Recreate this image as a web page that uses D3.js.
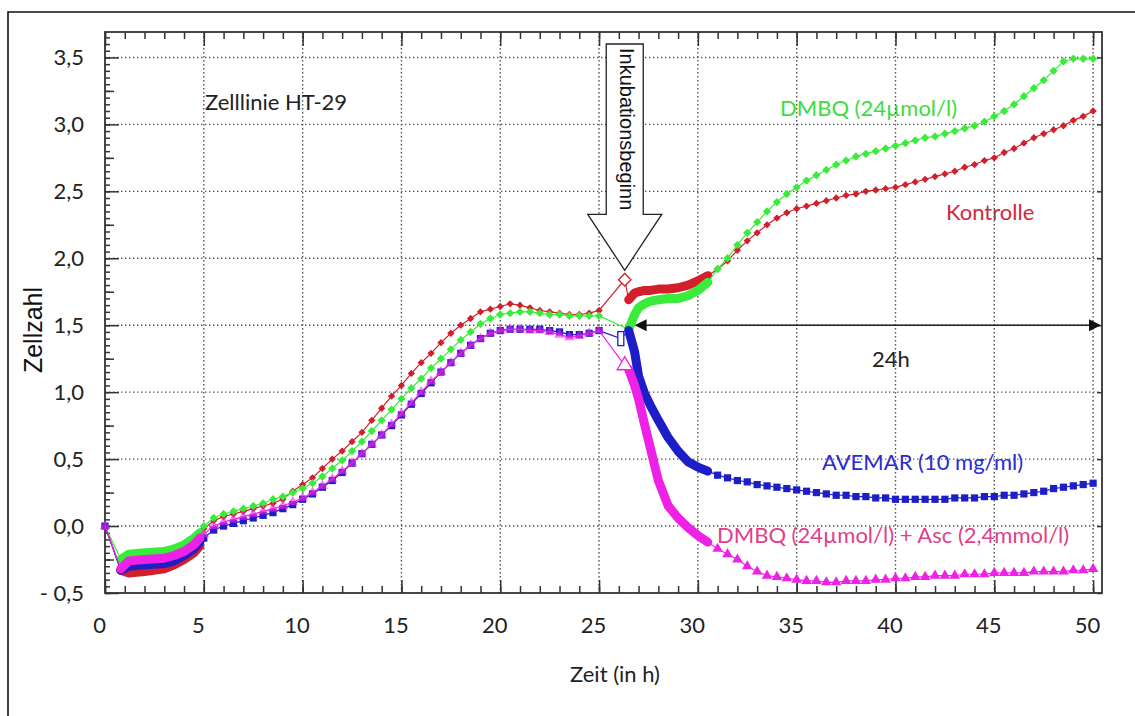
<!DOCTYPE html>
<html>
<head>
<meta charset="utf-8">
<script src="https://cdn.jsdelivr.net/npm/d3@7"></script>
<style>
body { margin: 0; background: #fff; }
svg { display: block; }
</style>
</head>
<body>
<script>
// cell count curves, HT-29

var xMajor = [0, 5, 10, 15, 20, 25, 30, 35, 40, 45, 50];
var yMajor = [-0.5, 0, 0.5, 1, 1.5, 2, 2.5, 3, 3.5];
var yLabels = ["- 0,5", "0,0", "0,5", "1,0", "1,5", "2,0", "2,5", "3,0", "3,5"];

// dense part at the start (0.8 - 4.8 h)
var earlyTimes = [0.8, 1.2, 2, 3, 3.5, 4, 4.5, 4.8];
var kontrolleEarly = [-0.33, -0.35, -0.34, -0.32, -0.29, -0.25, -0.20, -0.15];
var dmbqEarly = [-0.25, -0.21, -0.20, -0.19, -0.17, -0.14, -0.09, -0.05];
var avemarEarly = [-0.33, -0.30, -0.29, -0.28, -0.26, -0.22, -0.17, -0.12];
var ascEarly = [-0.32, -0.26, -0.25, -0.24, -0.22, -0.19, -0.14, -0.09];

// half-hourly points before incubation
var midTimes = [5, 5.5, 6, 6.5, 7, 7.5, 8, 8.5, 9, 9.5, 10, 10.5, 11, 11.5, 12, 12.5, 13, 13.5, 14, 14.5,
                15, 15.5, 16, 16.5, 17, 17.5, 18, 18.5, 19, 19.5, 20, 20.5, 21, 21.5, 22, 22.5, 23, 23.5, 24, 24.5, 25];
var kontrolleMid = [-0.02, 0.04, 0.07, 0.09, 0.11, 0.13, 0.15, 0.17, 0.20, 0.26, 0.31, 0.36, 0.43, 0.50, 0.56, 0.63, 0.70, 0.79, 0.88, 0.97,
                    1.05, 1.14, 1.22, 1.29, 1.37, 1.44, 1.50, 1.55, 1.60, 1.62, 1.64, 1.66, 1.65, 1.63, 1.61, 1.60, 1.59, 1.58, 1.58, 1.59, 1.61];
var dmbqMid = [0.00, 0.06, 0.09, 0.11, 0.13, 0.15, 0.17, 0.20, 0.22, 0.25, 0.28, 0.32, 0.37, 0.43, 0.49, 0.56, 0.63, 0.71, 0.79, 0.87,
               0.95, 1.03, 1.10, 1.18, 1.25, 1.32, 1.39, 1.45, 1.51, 1.55, 1.58, 1.59, 1.60, 1.60, 1.59, 1.58, 1.58, 1.57, 1.57, 1.57, 1.57];
var avemarMid = [-0.09, -0.03, 0.00, 0.02, 0.04, 0.06, 0.08, 0.10, 0.13, 0.16, 0.20, 0.24, 0.29, 0.34, 0.40, 0.47, 0.54, 0.61, 0.68, 0.75,
                 0.83, 0.91, 0.99, 1.07, 1.15, 1.22, 1.29, 1.35, 1.40, 1.44, 1.46, 1.47, 1.47, 1.47, 1.47, 1.46, 1.45, 1.43, 1.43, 1.44, 1.46];
var ascMid = [-0.06, 0.00, 0.03, 0.05, 0.07, 0.09, 0.11, 0.13, 0.15, 0.18, 0.21, 0.25, 0.30, 0.35, 0.41, 0.47, 0.54, 0.61, 0.68, 0.76,
              0.84, 0.92, 1.00, 1.08, 1.15, 1.22, 1.29, 1.35, 1.40, 1.44, 1.46, 1.47, 1.47, 1.46, 1.46, 1.45, 1.43, 1.41, 1.42, 1.44, 1.46];

// point at start of incubation (hollow marker)
var kontrolleStart = [26.3, 1.84];
var avemarStart = [26.1, 1.40];
var ascStart = [26.3, 1.20];

// dense part after incubation
var lateTimes = [26.5, 26.8, 27.0, 27.3, 27.6, 28.0, 28.5, 29.0, 29.5, 30.0, 30.5];
var kontrolleLate = [1.69, 1.74, 1.75, 1.76, 1.76, 1.77, 1.77, 1.78, 1.80, 1.83, 1.87];
var dmbqLate = [1.47, 1.58, 1.63, 1.66, 1.68, 1.69, 1.70, 1.70, 1.72, 1.76, 1.82];
var avemarLate = [1.46, 1.30, 1.12, 0.99, 0.90, 0.79, 0.66, 0.56, 0.48, 0.44, 0.41];
var ascLate = [1.17, 1.05, 0.95, 0.76, 0.58, 0.34, 0.15, 0.06, -0.01, -0.07, -0.12];

// half-hourly points after incubation
var postTimes = [31, 31.5, 32, 32.5, 33, 33.5, 34, 34.5, 35, 35.5, 36, 36.5, 37, 37.5, 38, 38.5, 39, 39.5, 40,
                 40.5, 41, 41.5, 42, 42.5, 43, 43.5, 44, 44.5, 45, 45.5, 46, 46.5, 47, 47.5, 48, 48.5, 49, 49.5, 50];
var kontrollePost = [1.92, 1.98, 2.06, 2.13, 2.19, 2.25, 2.30, 2.34, 2.37, 2.39, 2.41, 2.43, 2.45, 2.47, 2.48, 2.50, 2.51, 2.52, 2.53,
                     2.55, 2.57, 2.59, 2.61, 2.63, 2.65, 2.68, 2.70, 2.73, 2.75, 2.79, 2.82, 2.86, 2.90, 2.93, 2.96, 2.99, 3.03, 3.06, 3.10];
var dmbqPost = [1.92, 2.00, 2.10, 2.19, 2.27, 2.35, 2.42, 2.48, 2.53, 2.58, 2.62, 2.66, 2.70, 2.73, 2.76, 2.78, 2.80, 2.82, 2.84,
                2.86, 2.88, 2.90, 2.91, 2.93, 2.95, 2.97, 2.99, 3.02, 3.06, 3.10, 3.15, 3.21, 3.27, 3.33, 3.40, 3.47, 3.49, 3.49, 3.49];
var avemarPost = [0.38, 0.36, 0.34, 0.33, 0.31, 0.30, 0.29, 0.28, 0.27, 0.26, 0.25, 0.24, 0.23, 0.23, 0.22, 0.22, 0.21, 0.21, 0.20,
                  0.20, 0.20, 0.20, 0.20, 0.20, 0.21, 0.21, 0.21, 0.22, 0.22, 0.23, 0.23, 0.24, 0.25, 0.26, 0.28, 0.29, 0.30, 0.31, 0.32];
var ascPost = [-0.17, -0.21, -0.25, -0.30, -0.34, -0.37, -0.38, -0.39, -0.40, -0.41, -0.41, -0.42, -0.42, -0.41, -0.41, -0.41, -0.40, -0.40, -0.39,
               -0.39, -0.38, -0.38, -0.37, -0.37, -0.37, -0.36, -0.36, -0.36, -0.35, -0.35, -0.35, -0.35, -0.34, -0.34, -0.34, -0.34, -0.33, -0.33, -0.32];

var W = 1135, H = 716;
var plotL = 105, plotR = 1102, plotT = 32, plotB = 593;

var x = d3.scaleLinear().domain([0, 50.45]).range([plotL, plotR]);
var y = d3.scaleLinear().domain([-0.5, 3.69]).range([plotB, plotT]);

var svg = d3.select("body").append("svg").attr("width", W).attr("height", H);

// outer frame (only top and left edge are in the picture)
svg.append("path").attr("d", "M8,716V12H1135").attr("fill", "none").attr("stroke", "#111").attr("stroke-width", 1.6);

var font = "Lato, 'Open Sans', sans-serif";

// texts that sit under the grid
svg.append("text").attr("x", 205).attr("y", 110).text("Zelllinie HT-29")
    .attr("font-family", font).attr("font-size", 22).attr("fill", "#222");
svg.append("text").attr("x", 780).attr("y", 116).text("DMBQ (24µmol/l)")
    .attr("font-family", font).attr("font-size", 22).attr("fill", "#3edc3e");
svg.append("text").attr("x", 946).attr("y", 220).text("Kontrolle")
    .attr("font-family", font).attr("font-size", 22).attr("fill", "#d0283a");
svg.append("text").attr("x", 822).attr("y", 470).text("AVEMAR (10 mg/ml)")
    .attr("font-family", font).attr("font-size", 22).attr("fill", "#2a2ad2");
svg.append("text").attr("x", 717).attr("y", 543).text("DMBQ (24µmol/l) + Asc (2,4mmol/l)")
    .attr("font-family", font).attr("font-size", 22).attr("fill", "#e0408a");
svg.append("text").attr("x", 872).attr("y", 367).text("24h")
    .attr("font-family", font).attr("font-size", 22).attr("fill", "#222");

// dotted grid
var grid = svg.append("g").attr("stroke", "#555").attr("stroke-width", 1.4).attr("stroke-dasharray", "1.4,2.6");
grid.selectAll("line.gx").data(xMajor.filter(function (d) { return d > 0; })).enter().append("line")
    .attr("x1", function (d) { return x(d); }).attr("x2", function (d) { return x(d); })
    .attr("y1", plotT).attr("y2", plotB);
grid.selectAll("line.gy").data(yMajor.filter(function (d) { return d > -0.5; })).enter().append("line")
    .attr("x1", plotL).attr("x2", plotR)
    .attr("y1", function (d) { return y(d); }).attr("y2", function (d) { return y(d); });

// axes, ticks point inwards
function styleAxis(g) {
    g.select(".domain").remove();
    g.selectAll("line").attr("stroke", "#333").attr("stroke-width", 1.5);
    g.selectAll("text").attr("font-family", font).attr("font-size", 22).attr("fill", "#222");
}

svg.append("g").attr("transform", "translate(0," + plotB + ")")
    .call(d3.axisBottom(x).tickValues(d3.range(0, 51, 1)).tickSize(-7).tickFormat(""))
    .call(styleAxis);
svg.append("g").attr("transform", "translate(0," + plotB + ")")
    .call(d3.axisBottom(x).tickValues(xMajor).tickSize(-13).tickPadding(24).tickFormat(d3.format("d")))
    .call(styleAxis)
    .selectAll("text").attr("dx", -6);

svg.append("g").attr("transform", "translate(0," + plotT + ")")
    .call(d3.axisTop(x).tickValues(d3.range(0, 51, 1)).tickSize(-7).tickFormat(""))
    .call(styleAxis);
svg.append("g").attr("transform", "translate(0," + plotT + ")")
    .call(d3.axisTop(x).tickValues(xMajor).tickSize(-14).tickFormat(""))
    .call(styleAxis);

svg.append("g").attr("transform", "translate(" + plotL + ",0)")
    .call(d3.axisLeft(y).tickValues(d3.range(-0.5, 3.69, 0.05)).tickSize(-5).tickFormat(""))
    .call(styleAxis);
svg.append("g").attr("transform", "translate(" + plotL + ",0)")
    .call(d3.axisLeft(y).tickValues(d3.range(-0.25, 3.69, 0.5)).tickSize(-9).tickFormat(""))
    .call(styleAxis);
svg.append("g").attr("transform", "translate(" + plotL + ",0)")
    .call(d3.axisLeft(y).tickValues(yMajor).tickSize(-14).tickPadding(21)
        .tickFormat(function (d, i) { return yLabels[i]; }))
    .call(styleAxis);

svg.append("g").attr("transform", "translate(" + plotR + ",0)")
    .call(d3.axisRight(y).tickValues(yMajor).tickSize(-5).tickFormat(""))
    .call(styleAxis);

svg.append("rect").attr("x", plotL).attr("y", plotT).attr("width", plotR - plotL).attr("height", plotB - plotT)
    .attr("fill", "none").attr("stroke", "#333").attr("stroke-width", 1.8);

// axis titles
svg.append("text").attr("transform", "translate(42,330) rotate(-90)").attr("text-anchor", "middle")
    .text("Zellzahl").attr("font-family", "'Liberation Sans', Arial, sans-serif").attr("font-size", 25).attr("fill", "#111");
svg.append("text").attr("x", 615).attr("y", 682).attr("text-anchor", "middle")
    .text("Zeit (in h)").attr("font-family", font).attr("font-size", 22).attr("fill", "#222");

// series
function zip(ts, vs) {
    return ts.map(function (t, i) { return [t, vs[i]]; });
}

var series = [
    {color: "#d21f2b", symbol: d3.symbolDiamond2, size: 34, opacity: 1,
        early: zip(earlyTimes, kontrolleEarly), mid: zip(midTimes, kontrolleMid), start: kontrolleStart,
        late: zip(lateTimes, kontrolleLate), post: zip(postTimes, kontrollePost)},
    {color: "#3aec3a", symbol: d3.symbolDiamond2, size: 44, opacity: 1,
        early: zip(earlyTimes, dmbqEarly), mid: zip(midTimes, dmbqMid), start: null,
        late: zip(lateTimes, dmbqLate), post: zip(postTimes, dmbqPost)},
    {color: "#1e1ec8", symbol: d3.symbolSquare, size: 52, opacity: 1,
        early: zip(earlyTimes, avemarEarly), mid: zip(midTimes, avemarMid), start: avemarStart,
        late: zip(lateTimes, avemarLate), post: zip(postTimes, avemarPost)},
    {color: "#ee22e6", symbol: d3.symbolTriangle, size: 48, opacity: 0.6,
        early: zip(earlyTimes, ascEarly), mid: zip(midTimes, ascMid), start: ascStart,
        late: zip(lateTimes, ascLate), post: zip(postTimes, ascPost)}
];

var line = d3.line().x(function (d) { return x(d[0]); }).y(function (d) { return y(d[1]); });

series.forEach(function (s) {
    var g = svg.append("g");
    var all = [[0, 0]].concat(s.early, s.mid, s.start ? [s.start] : [], s.late, s.post);
    g.append("path").attr("d", line(all)).attr("fill", "none").attr("stroke", s.color).attr("stroke-width", 1.2);
    // dense parts drawn as thick bands
    [s.early, s.late].forEach(function (part) {
        g.append("path").attr("d", line(part)).attr("fill", "none").attr("stroke", s.color)
            .attr("stroke-width", 9).attr("stroke-linejoin", "round").attr("stroke-linecap", "round");
    });
    var sym = d3.symbol().type(s.symbol).size(s.size);
    g.selectAll("path.m").data([[0, 0]].concat(s.mid)).enter().append("path")
        .attr("d", sym).attr("fill", s.color).attr("fill-opacity", s.opacity)
        .attr("transform", function (d) { return "translate(" + x(d[0]) + "," + y(d[1]) + ")"; });
    g.selectAll("path.p").data(s.post).enter().append("path")
        .attr("d", sym).attr("fill", s.color)
        .attr("transform", function (d) { return "translate(" + x(d[0]) + "," + y(d[1]) + ")"; });
    if (s.start) {
        if (s.symbol !== d3.symbolSquare) {
            g.append("path").attr("d", d3.symbol().type(s.symbol).size(100)).attr("fill", "#fff")
                .attr("stroke", s.color).attr("stroke-width", 1.3)
                .attr("transform", "translate(" + x(s.start[0]) + "," + y(s.start[1]) + ")");
        } else {
            g.append("rect").attr("x", x(s.start[0]) - 3).attr("y", y(s.start[1]) - 7)
                .attr("width", 6).attr("height", 14)
                .attr("fill", "#fff").attr("stroke", s.color).attr("stroke-width", 1.3);
        }
    }
});

// incubation arrow
var tipX = x(26.3), tipY = y(1.91);
var arrow = [[tipX - 18.5, 44], [tipX + 18.5, 44], [tipX + 18.5, tipY - 56], [tipX + 37, tipY - 56],
             [tipX, tipY], [tipX - 37, tipY - 56], [tipX - 18.5, tipY - 56]];
svg.append("polygon").attr("points", arrow.map(function (p) { return p.join(","); }).join(" "))
    .attr("fill", "#fff").attr("stroke", "#222").attr("stroke-width", 1.3);
svg.append("text").attr("transform", "translate(" + (tipX - 5) + ",48) rotate(90)")
    .text("Inkubationsbeginn").attr("font-family", "'Liberation Sans', Arial, sans-serif")
    .attr("font-size", 20).attr("fill", "#111");

// 24h double arrow
var ay = y(1.5), ax1 = x(26.8), ax2 = plotR - 1;
svg.append("line").attr("x1", ax1 + 8).attr("x2", ax2 - 8).attr("y1", ay).attr("y2", ay)
    .attr("stroke", "#222").attr("stroke-width", 1.6);
svg.append("path").attr("d", "M" + ax1 + "," + ay + "l12,-6v12z").attr("fill", "#111");
svg.append("path").attr("d", "M" + ax2 + "," + ay + "l-12,-6v12z").attr("fill", "#111");
</script>
</body>
